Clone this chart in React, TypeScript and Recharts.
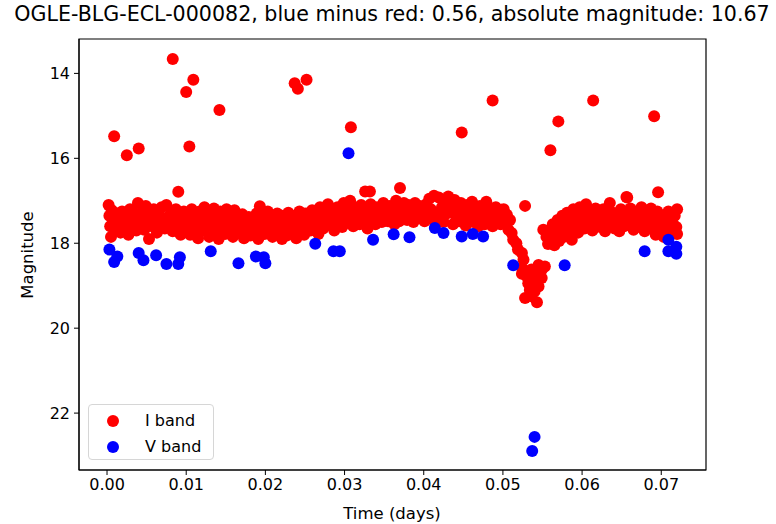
import React from 'react'
import {
  ScatterChart,
  Scatter,
  XAxis,
  YAxis,
  ReferenceArea,
  Legend
} from 'recharts'

// time (days), magnitude
const iBandEarly: [number, number][] = [
  [0.0002, 17.10], [0.0003, 17.35], [0.0004, 17.60], [0.0005, 17.85], [0.0006, 17.22], [0.0008, 17.48],
  [0.0010, 17.70], [0.0012, 17.30], [0.0013, 17.55], [0.0015, 17.40], [0.0017, 17.75], [0.0019, 17.25],
  [0.0021, 17.50], [0.0023, 17.62], [0.0025, 17.35], [0.0027, 17.80], [0.0029, 17.20], [0.0031, 17.45],
  [0.0033, 17.58], [0.0035, 17.30], [0.0037, 17.70], [0.0039, 17.05], [0.0041, 17.40], [0.0043, 17.52],
  [0.0045, 17.25], [0.0047, 17.68], [0.0049, 17.12], [0.0051, 17.45], [0.0053, 17.90], [0.0055, 17.33],
  [0.0057, 17.60], [0.0059, 17.20], [0.0061, 17.48], [0.0063, 17.75], [0.0065, 17.30], [0.0067, 17.55],
  [0.0069, 17.15], [0.0071, 17.42], [0.0073, 17.65], [0.0075, 17.10], [0.0077, 17.38], [0.0079, 17.58],
  [0.0081, 17.28], [0.0083, 17.72], [0.0085, 17.45], [0.0087, 17.20], [0.0089, 17.62], [0.0091, 17.35],
  [0.0093, 17.80], [0.0095, 17.50], [0.0097, 17.25], [0.0099, 17.68]
]

const iBandMid: [number, number][] = [
  [0.0101, 17.30], [0.0103, 17.55], [0.0105, 17.80], [0.0107, 17.20], [0.0109, 17.45], [0.0111, 17.65],
  [0.0113, 17.35], [0.0115, 17.88], [0.0117, 17.25], [0.0119, 17.52], [0.0121, 17.70], [0.0123, 17.15],
  [0.0125, 17.42], [0.0127, 17.60], [0.0129, 17.85], [0.0131, 17.30], [0.0133, 17.50], [0.0135, 17.18],
  [0.0137, 17.72], [0.0139, 17.40], [0.0141, 17.90], [0.0143, 17.25], [0.0145, 17.58], [0.0147, 17.35],
  [0.0149, 17.78], [0.0151, 17.20], [0.0153, 17.48], [0.0155, 17.65], [0.0157, 17.30], [0.0159, 17.85],
  [0.0161, 17.22], [0.0163, 17.55], [0.0165, 17.40], [0.0167, 17.75], [0.0169, 17.60], [0.0171, 17.32],
  [0.0173, 17.88], [0.0175, 17.45], [0.0177, 17.68], [0.0179, 17.38], [0.0181, 17.82], [0.0183, 17.55],
  [0.0185, 17.42], [0.0187, 17.70], [0.0189, 17.30], [0.0191, 17.90], [0.0193, 17.50], [0.0195, 17.62],
  [0.0197, 17.35], [0.0199, 17.78], [0.0201, 17.45], [0.0203, 17.25], [0.0205, 17.68], [0.0207, 17.55],
  [0.0209, 17.85], [0.0211, 17.40], [0.0213, 17.62], [0.0215, 17.30], [0.0217, 17.75], [0.0219, 17.48],
  [0.0221, 17.90], [0.0223, 17.35], [0.0225, 17.58], [0.0227, 17.82], [0.0229, 17.28], [0.0231, 17.65],
  [0.0233, 17.45], [0.0235, 17.72], [0.0237, 17.35], [0.0239, 17.88], [0.0241, 17.52], [0.0243, 17.25],
  [0.0245, 17.68], [0.0247, 17.42], [0.0249, 17.80], [0.0251, 17.30], [0.0253, 17.58], [0.0255, 17.45],
  [0.0257, 17.70], [0.0259, 17.22], [0.0261, 17.50], [0.0263, 17.62], [0.0265, 17.35], [0.0267, 17.78],
  [0.0269, 17.15]
]

const iBandBright: [number, number][] = [
  [0.0271, 17.45], [0.0273, 17.65], [0.0275, 17.25], [0.0277, 17.50], [0.0279, 17.08], [0.0281, 17.38],
  [0.0283, 17.58], [0.0285, 17.20], [0.0287, 17.70], [0.0289, 17.42], [0.0291, 17.15], [0.0293, 17.55],
  [0.0295, 17.30], [0.0297, 17.62], [0.0299, 17.05], [0.0301, 17.40], [0.0303, 17.22], [0.0305, 17.52],
  [0.0307, 17.00], [0.0309, 17.35], [0.0311, 17.60], [0.0313, 17.15], [0.0315, 17.45], [0.0317, 17.28],
  [0.0319, 17.55], [0.0321, 17.10], [0.0323, 17.38], [0.0325, 17.50], [0.0327, 17.20], [0.0329, 17.65],
  [0.0331, 17.32], [0.0333, 17.08], [0.0335, 17.45], [0.0337, 17.25], [0.0339, 17.55], [0.0341, 17.15],
  [0.0343, 17.40], [0.0345, 17.30], [0.0347, 17.50], [0.0349, 17.05], [0.0351, 17.35], [0.0353, 17.22],
  [0.0355, 17.48], [0.0357, 17.12], [0.0359, 17.40], [0.0361, 17.28], [0.0363, 17.55],
  [0.0365, 17.00], [0.0367, 17.30], [0.0369, 17.48], [0.0371, 17.15], [0.0373, 17.38], [0.0375, 17.05],
  [0.0377, 17.25], [0.0379, 17.45], [0.0381, 17.10], [0.0383, 17.32], [0.0385, 17.20], [0.0387, 17.50],
  [0.0389, 17.05], [0.0391, 17.28], [0.0393, 17.40], [0.0395, 17.12], [0.0397, 17.35], [0.0399, 17.22],
  [0.0401, 17.48], [0.0403, 17.08], [0.0405, 17.30], [0.0407, 16.95], [0.0409, 17.20], [0.0411, 17.42],
  [0.0413, 16.88], [0.0415, 17.55], [0.0417, 17.28], [0.0419, 16.92], [0.0421, 17.35], [0.0423, 17.15],
  [0.0425, 17.50], [0.0427, 17.02], [0.0429, 17.30], [0.0431, 16.90], [0.0433, 17.12], [0.0435, 17.25],
  [0.0437, 17.55], [0.0439, 16.98], [0.0441, 17.38], [0.0443, 17.18], [0.0445, 17.48], [0.0447, 17.05],
  [0.0449, 17.32], [0.0451, 17.22], [0.0453, 17.58], [0.0455, 17.10], [0.0457, 17.40], [0.0459, 17.28],
  [0.0461, 17.02], [0.0463, 17.50], [0.0465, 17.20], [0.0467, 17.35], [0.0469, 17.60], [0.0471, 17.12],
  [0.0473, 17.42], [0.0475, 17.25], [0.0477, 17.55], [0.0479, 17.02], [0.0481, 17.35], [0.0483, 17.48],
  [0.0485, 17.18], [0.0487, 17.60], [0.0489, 17.30], [0.0491, 17.15], [0.0493, 17.42], [0.0495, 17.25],
  [0.0497, 17.55], [0.0499, 17.35], [0.0501, 17.20]
]

const iEclipse: [number, number][] = [
  [0.0498, 17.21], [0.0505, 17.33], [0.0509, 17.45], [0.0507, 17.68], [0.0511, 17.76], [0.0513, 17.92],
  [0.0517, 18.00], [0.0519, 18.15], [0.0524, 18.23], [0.0526, 18.39], [0.0524, 18.58], [0.0528, 18.66],
  [0.0530, 18.78], [0.0524, 18.72], [0.0532, 18.94], [0.0534, 19.10], [0.0528, 19.29], [0.0536, 19.25],
  [0.0543, 19.39], [0.0540, 19.13], [0.0545, 19.02], [0.0549, 18.82], [0.0543, 18.70], [0.0545, 18.51],
  [0.0553, 18.55], [0.0549, 18.63], [0.0536, 18.62], [0.0538, 18.85], [0.0551, 17.68]
]

const iBandLate: [number, number][] = [
  [0.0555, 17.85], [0.0557, 18.02], [0.0559, 17.70], [0.0561, 17.92], [0.0563, 17.55], [0.0565, 18.05],
  [0.0567, 17.78], [0.0569, 17.45], [0.0571, 17.95], [0.0573, 17.62], [0.0575, 17.35], [0.0577, 17.85],
  [0.0579, 17.50], [0.0581, 17.28], [0.0583, 17.72], [0.0585, 17.40], [0.0587, 17.92], [0.0589, 17.20],
  [0.0591, 17.58], [0.0593, 17.35], [0.0595, 17.75], [0.0597, 17.15], [0.0599, 17.48], [0.0601, 17.30],
  [0.0603, 17.65], [0.0605, 17.08], [0.0607, 17.42], [0.0609, 17.55], [0.0611, 17.25], [0.0613, 17.70],
  [0.0615, 17.38], [0.0617, 17.18], [0.0619, 17.52], [0.0621, 17.30], [0.0623, 17.62], [0.0625, 17.45],
  [0.0627, 17.20], [0.0629, 17.72], [0.0631, 17.35], [0.0633, 17.55], [0.0635, 17.05], [0.0637, 17.42],
  [0.0639, 17.28], [0.0641, 17.65], [0.0643, 17.50], [0.0645, 17.35], [0.0647, 17.72], [0.0649, 17.20],
  [0.0651, 17.45], [0.0653, 17.60], [0.0655, 17.30], [0.0657, 16.92], [0.0659, 17.52], [0.0661, 17.18],
  [0.0663, 17.40], [0.0665, 17.68], [0.0667, 17.25], [0.0669, 17.50], [0.0671, 17.35], [0.0673, 17.62],
  [0.0675, 17.15], [0.0677, 17.45], [0.0679, 17.72], [0.0681, 17.28], [0.0683, 17.55], [0.0685, 17.38],
  [0.0687, 17.18], [0.0689, 17.65], [0.0691, 17.42], [0.0693, 17.80], [0.0695, 17.25], [0.0697, 17.52],
  [0.0699, 17.35], [0.0701, 17.68], [0.0703, 17.85], [0.0705, 17.42], [0.0707, 17.58], [0.0709, 17.25],
  [0.0711, 17.70], [0.0713, 17.45], [0.0715, 17.55], [0.0717, 17.35], [0.0719, 17.62], [0.0720, 17.20],
  [0.0720, 17.78]
]

const iOutliers: [number, number][] = [
  [0.0009, 15.48], [0.0025, 15.93], [0.0040, 15.77], [0.0083, 13.66], [0.0090, 16.79], [0.0100, 14.44],
  [0.0104, 15.72], [0.0109, 14.15], [0.0142, 14.86], [0.0193, 17.13], [0.0237, 14.23], [0.0241, 14.36],
  [0.0252, 14.15], [0.0308, 15.27], [0.0326, 16.78], [0.0332, 16.78], [0.0370, 16.70], [0.0448, 15.39],
  [0.0487, 14.64], [0.0528, 17.12], [0.0560, 15.81], [0.0570, 15.13], [0.0614, 14.64], [0.0656, 16.91],
  [0.0691, 15.01], [0.0696, 16.80]
]

const vBand: [number, number][] = [
  [0.0003, 18.15], [0.0009, 18.44], [0.0013, 18.31], [0.0040, 18.23], [0.0046, 18.40], [0.0062, 18.28],
  [0.0075, 18.49], [0.0090, 18.49], [0.0092, 18.33], [0.0131, 18.19], [0.0166, 18.47], [0.0188, 18.31],
  [0.0198, 18.33], [0.0200, 18.47], [0.0263, 18.01], [0.0286, 18.19], [0.0294, 18.19], [0.0305, 15.88],
  [0.0336, 17.92], [0.0362, 17.79], [0.0382, 17.86], [0.0414, 17.64], [0.0425, 17.76], [0.0448, 17.84],
  [0.0462, 17.78], [0.0475, 17.84], [0.0513, 18.52], [0.0537, 22.89], [0.0540, 22.56], [0.0578, 18.52],
  [0.0679, 18.19], [0.0709, 17.92], [0.0709, 18.19], [0.0719, 18.08], [0.0719, 18.25]
]

const xTicks = [0, 0.01, 0.02, 0.03, 0.04, 0.05, 0.06, 0.07]
const yTicks = [14, 16, 18, 20, 22]

const X_DOMAIN: [number, number] = [-0.00354, 0.07565]
const Y_DOMAIN: [number, number] = [13.19, 23.34]

const toPoints = (rows: [number, number][]) => rows.map(([t, m]) => ({ t, m }))

const iData = toPoints([...iBandEarly, ...iBandMid, ...iBandBright, ...iEclipse, ...iBandLate, ...iOutliers])
const vData = toPoints(vBand)

const FONT = '"DejaVu Sans", sans-serif'

const dot = (color: string) => (props: any) =>
  <circle cx={props.cx} cy={props.cy} r={6} fill={color} />

const LegendBox = () => (
  <div
    style={{
      width: 126,
      height: 56,
      boxSizing: 'border-box',
      border: '1px solid #d6d6d6',
      borderRadius: 4,
      background: 'rgba(255,255,255,0.8)',
      fontFamily: FONT,
      fontSize: 16,
      color: '#000',
      position: 'relative'
    }}
  >
    {[
      { label: 'I band', color: '#ff0000', y: 16 },
      { label: 'V band', color: '#0000ff', y: 42 }
    ].map((e) => (
      <div key={e.label} style={{ position: 'absolute', left: 0, top: e.y - 10, height: 20, display: 'flex', alignItems: 'center' }}>
        <svg width={40} height={20} style={{ display: 'block' }}>
          <circle cx={24} cy={10} r={6} fill={e.color} />
        </svg>
        <span style={{ marginLeft: 16, lineHeight: '20px' }}>{e.label}</span>
      </div>
    ))}
  </div>
)

export default function App() {
  return (
    <div style={{ position: 'absolute', left: 0, top: 0, width: 776, height: 524, background: '#fff', fontFamily: FONT }}>
      <div style={{ position: 'absolute', left: 0, width: 784, top: 2, textAlign: 'center', fontSize: 20.6, lineHeight: '24px', color: '#000' }}>
        OGLE-BLG-ECL-000082, blue minus red: 0.56, absolute magnitude: 10.67
      </div>
      <ScatterChart width={776} height={524} margin={{ top: 39, right: 70, left: 0, bottom: 0 }}>
        <XAxis
          type="number"
          dataKey="t"
          domain={X_DOMAIN}
          allowDataOverflow
          ticks={xTicks}
          tickFormatter={(v: number) => v.toFixed(2)}
          height={54}
          tickSize={5}
          tickMargin={4}
          stroke="#000"
          tick={{ fill: '#000', fontSize: 16, fontFamily: FONT }}
        />
        <YAxis
          type="number"
          dataKey="m"
          reversed
          domain={Y_DOMAIN}
          allowDataOverflow
          ticks={yTicks}
          width={79}
          tickSize={5}
          tickMargin={4}
          stroke="#000"
          tick={{ fill: '#000', fontSize: 16, fontFamily: FONT }}
        />
        <ReferenceArea x1={X_DOMAIN[0]} x2={X_DOMAIN[1]} y1={Y_DOMAIN[0]} y2={Y_DOMAIN[1]} stroke="#000" strokeWidth={1.2} fill="none" />
        <Scatter name="I band" data={iData} fill="#ff0000" shape={dot('#ff0000')} isAnimationActive={false} />
        <Scatter name="V band" data={vData} fill="#0000ff" shape={dot('#0000ff')} isAnimationActive={false} />
        <Legend
          layout="horizontal"
          verticalAlign="middle"
          align="center"
          content={() => <LegendBox />}
          wrapperStyle={{ left: 88, top: 404, width: 126, height: 56 }}
        />
      </ScatterChart>
      <div style={{ position: 'absolute', left: 392 - 100, width: 200, top: 504, textAlign: 'center', fontSize: 16.5, lineHeight: '20px', color: '#000' }}>
        Time (days)
      </div>
      <div
        style={{
          position: 'absolute',
          left: 28 - 60,
          top: 255 - 10,
          width: 120,
          height: 20,
          textAlign: 'center',
          fontSize: 16.5,
          lineHeight: '20px',
          color: '#000',
          transform: 'rotate(-90deg)'
        }}
      >
        Magnitude
      </div>
    </div>
  )
}
